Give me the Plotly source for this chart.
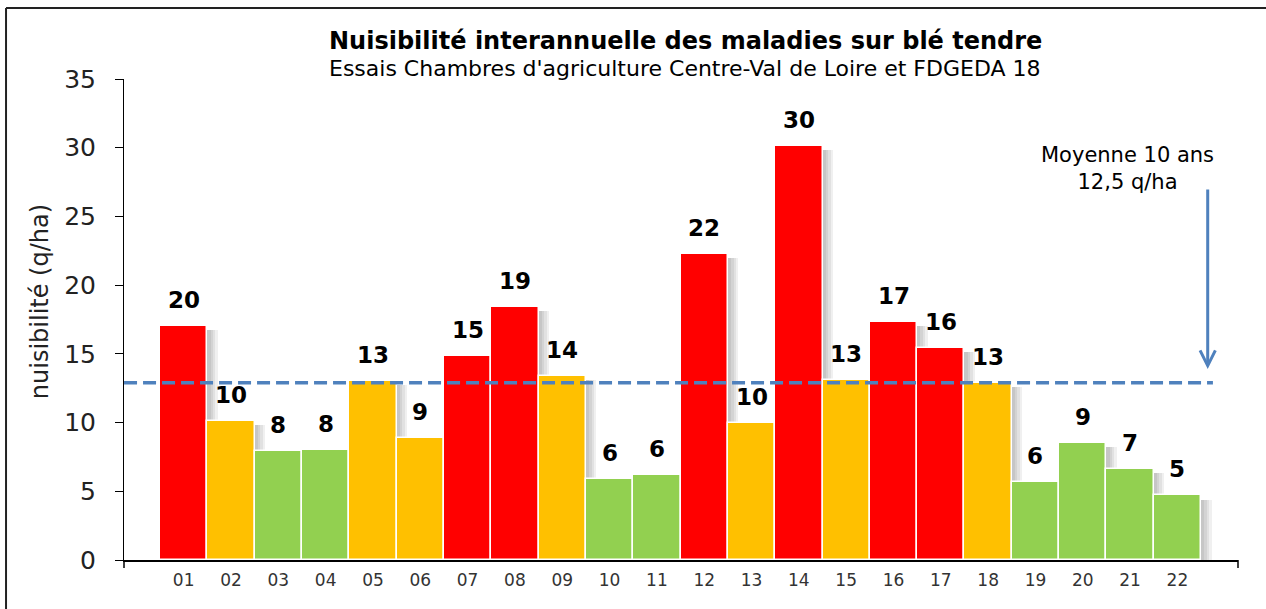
import plotly.graph_objects as go

# ---------------- data ----------------
years = ["01", "02", "03", "04", "05", "06", "07", "08", "09", "10", "11",
         "12", "13", "14", "15", "16", "17", "18", "19", "20", "21", "22"]
bar_heights = [17.0, 10.1, 7.9, 8.0, 13.0, 8.9, 14.85, 18.4, 13.4, 5.9, 6.15,
               22.3, 9.95, 30.1, 13.1, 17.3, 15.4, 12.9, 5.7, 8.5, 6.6, 4.7]
bar_labels = ["20", "10", "8", "8", "13", "9", "15", "19", "14", "6", "6",
              "22", "10", "30", "13", "17", "16", "13", "6", "9", "7", "5"]
levels = ["fort", "moyen", "faible", "faible", "moyen", "moyen", "fort", "fort",
          "moyen", "faible", "faible", "fort", "moyen", "fort", "moyen", "fort",
          "fort", "moyen", "faible", "faible", "faible", "faible"]
level_colors = {"fort": "#FF0000", "moyen": "#FFC000", "faible": "#92D050"}
mean_value = 12.9          # position of the dashed line
mean_text = "Moyenne 10 ans<br>12,5 q/ha"
y_ticks = [0, 5, 10, 15, 20, 25, 30, 35]

title_text = "Nuisibilité interannuelle des maladies sur blé tendre"
subtitle_text = "Essais Chambres d'agriculture Centre-Val de Loire et FDGEDA 18"
y_title = "nuisibilité (q/ha)"

FONT = "DejaVu Sans"
xpos = list(range(1, len(years) + 1))

fig = go.Figure()

# soft shadows (drawn first, behind the bars)
for off in [0.22, 0.17, 0.12, 0.07]:
    fig.add_trace(go.Bar(
        x=[p + off for p in xpos], y=[h - 0.3 for h in bar_heights], width=1.0,
        marker=dict(color="rgba(0,0,0,0.06)", line=dict(width=0)),
        hoverinfo="skip", showlegend=False))

fig.add_trace(go.Bar(
    x=xpos, y=bar_heights, width=1.0,
    marker=dict(color=[level_colors[l] for l in levels],
                line=dict(color="white", width=1.5)),
    showlegend=False))

# value labels
for p, h, lab in zip(xpos, bar_heights, bar_labels):
    fig.add_annotation(x=p, y=h, text=f"<b>{lab}</b>", showarrow=False,
                       yanchor="middle", yshift=26,
                       font=dict(family=FONT, size=23, color="black"))

# dashed mean line
fig.add_shape(type="line", xref="x", yref="y", x0=-0.26, x1=22.75,
              y0=mean_value, y1=mean_value,
              line=dict(color="#4F81BD", width=3.5, dash="13px,6px"))

# arrow + text
fig.add_annotation(x=22.64, y=13.9, ax=22.64, ay=27.07, xref="x", yref="y",
                   axref="x", ayref="y", text="", showarrow=True,
                   arrowhead=5, arrowsize=1.0, arrowwidth=3, arrowcolor="#4F81BD")
fig.add_annotation(x=20.94, y=28.52, xref="x", yref="y", text=mean_text,
                   showarrow=False, align="center",
                   font=dict(family=FONT, size=21, color="black"))

# titles
fig.add_annotation(x=0.5036, y=1.079, xref="paper", yref="paper",
                   text=f"<b>{title_text}</b>", showarrow=False,
                   xanchor="center", yanchor="middle",
                   font=dict(family=FONT, size=24, color="black"))
fig.add_annotation(x=0.5036, y=1.0208, xref="paper", yref="paper",
                   text=subtitle_text, showarrow=False,
                   xanchor="center", yanchor="middle",
                   font=dict(family=FONT, size=22, color="black"))
fig.add_annotation(x=-0.0754, y=0.536, xref="paper", yref="paper",
                   text=y_title, showarrow=False, textangle=-90,
                   xanchor="center", yanchor="middle",
                   font=dict(family=FONT, size=24, color="#222"))

# end ticks of x axis
for xp in [0, 1]:
    fig.add_shape(type="line", xref="paper", yref="paper", x0=xp, x1=xp,
                  y0=0, y1=-8 / 481, line=dict(color="black", width=1.5))

# outer frame (top & left)
fig.add_shape(type="line", xref="paper", yref="paper", x0=-0.1059, x1=1.05,
              y0=1.1476, y1=1.1476, line=dict(color="#222", width=2))
fig.add_shape(type="line", xref="paper", yref="paper", x0=-0.1059, x1=-0.1059,
              y0=1.1476, y1=-0.2, line=dict(color="#222", width=2))

fig.update_layout(
    width=1266, height=609,
    margin=dict(l=124, r=28, t=79, b=49),
    paper_bgcolor="white", plot_bgcolor="white",
    barmode="overlay", bargap=0,
    font=dict(family=FONT),
    xaxis=dict(range=[-0.261, 23.28], tickvals=xpos, ticktext=years,
               showline=True, linecolor="black", linewidth=1.5,
               ticks="", showgrid=False, zeroline=False,
               tickfont=dict(family=FONT, size=17, color="#333"),
               ticklabelstandoff=4),
    yaxis=dict(range=[0, 35], tickvals=y_ticks, showline=True,
               linecolor="black", linewidth=1, ticks="outside", ticklen=8,
               tickcolor="black", showgrid=False, zeroline=False,
               tickfont=dict(family=FONT, size=25, color="#222"),
               ticklabelstandoff=14),
)

fig.write_html("out.html",
               config={"displayModeBar": False},
               post_script="document.body.style.margin='0px';"
                           "document.body.style.overflow='hidden';")
